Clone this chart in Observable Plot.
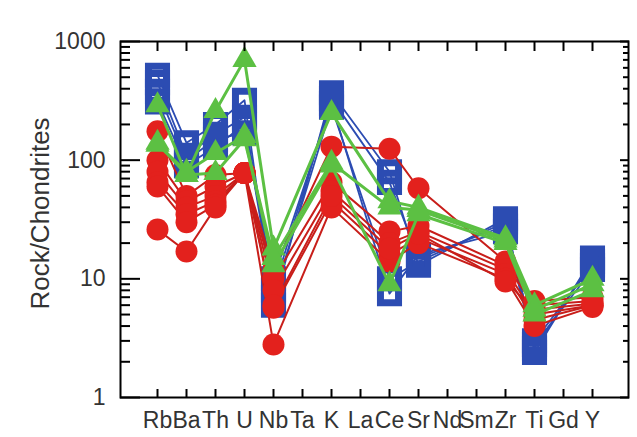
<!DOCTYPE html>
<html><head><meta charset="utf-8">
<script src="https://cdn.jsdelivr.net/npm/d3@7"></script>
<script src="https://cdn.jsdelivr.net/npm/@observablehq/plot@0.6"></script>
<style>body{margin:0;background:#fff}</style>
</head><body><div id="chart"></div>
<script>
// x categories (tick labels)
const elements = ["Rb","Ba","Th","U","Nb","Ta","K","La","Ce","Sr","Nd","Sm","Zr","Ti","Gd","Y"];
// elements that carry measured values in each series
const measured = ["Rb","Ba","Th","U","Nb","K","Ce","Sr","Zr","Ti","Y"];

// blue squares
const blue1 = [520, 140, 200, 320, 6,  370, 80, 13, 32, 2.4, 15];
const blue2 = [450, 110, 165, 230, 8,  330, 65, 15, 28, 3.0, 13];
const blue3 = [380, 100, 150, 170, 10, 300, 7.5, 16, 25, 2.6, 14];
const blue4 = [310, 90,  130, 200, 7,  280, 10, 14, 30, 2.8, 12];
// red circles
const red1 = [175, 50, 75, 78, 12,  130, 125, 58, 14, 6.5, 7];
const red2 = [100, 45, 60, 78, 10,  65,  25,  28, 13, 6.0, 6.5];
const red3 = [80,  40, 50, 78, 8,   55,  20,  25, 12, 5.0, 6];
const red4 = [65,  35, 45, 78, 5.7, 45,  16,  22, 11, 4.5, 6];
const red5 = [60,  30, 42, 78, 2.8, 40,  14,  20, 10, 4.0, 5.8];
const red6 = [26,  17, 40, 78, 6,   50,  18,  24, 9.5, 5.5, 6.2];
// green triangles
const green1 = [290, 75, 260, 700, 18, 250, 45, 40, 22, 6.0, 10];
const green2 = [135, 80, 115, 160, 13, 90,  9,  35, 20, 5.0, 8];
const green3 = [140, 75, 78,  150, 15, 95,  40, 38, 21, 5.5, 9];

const majorTicks = [1, 10, 100, 1000];
const minorTicks = [2,3,4,5,6,7,8,9,20,30,40,50,60,70,80,90,200,300,400,500,600,700,800,900];

function rows(vals, id) {
  return measured.map((el, i) => ({id, el, v: vals[i]}));
}
const blueData = [blue1, blue2, blue3, blue4].flatMap((s, k) => rows(s, "b" + k));
const redData = [red1, red2, red3, red4, red5, red6].flatMap((s, k) => rows(s, "r" + k));
const greenData = [green1, green2, green3].flatMap((s, k) => rows(s, "g" + k));

const BLUE = "#2c4cb2", RED = "#e3211d", GREEN = "#5cc043";

const plot = Plot.plot({
  width: 637,
  height: 437,
  marginLeft: 120,
  marginRight: 9,
  marginTop: 41,
  marginBottom: 40,
  style: {fontFamily: "'Liberation Sans', Arial, sans-serif", fontSize: "23px", color: "#333", background: "#fff"},
  x: {type: "point", domain: elements, padding: 1},
  y: {type: "log", domain: [1, 1000]},
  marks: [
    Plot.line(blueData, {x: "el", y: "v", z: "id", stroke: BLUE, strokeWidth: 1.8}),
    Plot.dot(blueData, {x: "el", y: "v", symbol: "square", r: 10.2, fill: "none", stroke: BLUE, strokeWidth: 7}),
    Plot.line(redData, {x: "el", y: "v", z: "id", stroke: "#c81e1a", strokeWidth: 2}),
    Plot.dot(redData, {x: "el", y: "v", r: 11, fill: RED}),
    Plot.line(greenData, {x: "el", y: "v", z: "id", stroke: GREEN, strokeWidth: 3}),
    Plot.dot(greenData, {x: "el", y: "v", symbol: "triangle", r: 9, fill: GREEN}),
    // axes: ticks pointing inward
    Plot.axisY({anchor: "left", ticks: majorTicks, tickSize: -20, tickPadding: 35, tickFormat: d => String(d), strokeWidth: 2, stroke: "black", label: null}),
    Plot.axisY({anchor: "left", ticks: minorTicks, tickSize: -10, tickFormat: () => "", strokeWidth: 2, stroke: "black", label: null}),
    Plot.axisY({anchor: "right", ticks: majorTicks, tickSize: -9, tickFormat: () => "", strokeWidth: 2, stroke: "black", label: null}),
    Plot.axisY({anchor: "right", ticks: minorTicks, tickSize: -6, tickFormat: () => "", strokeWidth: 2, stroke: "black", label: null}),
    Plot.axisX({anchor: "bottom", ticks: elements, tickSize: -8, tickPadding: 22, strokeWidth: 2, stroke: "black", label: null}),
    Plot.axisX({anchor: "top", ticks: elements, tickSize: -9, tickFormat: () => "", strokeWidth: 2, stroke: "black", label: null}),
    Plot.frame({stroke: "black", strokeWidth: 2}),
    Plot.text(["Rock/Chondrites"], {frameAnchor: "left", dx: -80, dy: -6, rotate: -90, textAnchor: "middle", lineAnchor: "middle", text: d => d, fontSize: 26, fill: "#333"})
  ]
});
document.getElementById("chart").appendChild(plot);
</script>
</body></html>
